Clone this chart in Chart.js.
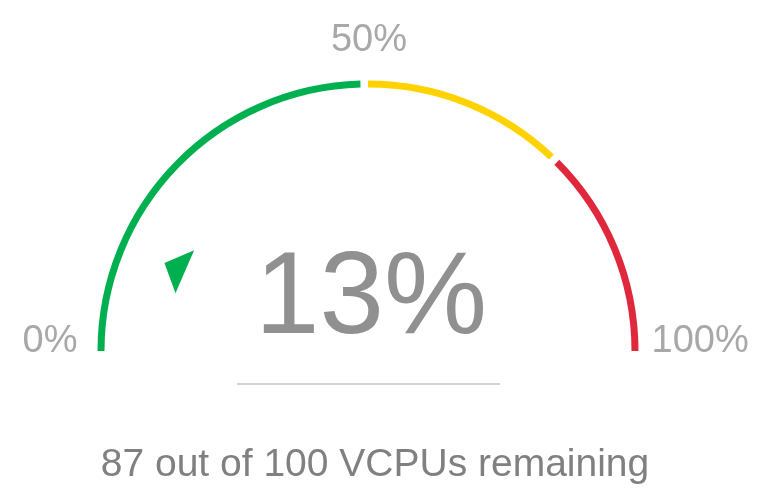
<!DOCTYPE html>
<html><head><meta charset="utf-8">
<script src="https://cdn.jsdelivr.net/npm/chart.js@4"></script>
<style>html,body{margin:0;padding:0;background:#fff;}#wrap{width:769px;height:491px;position:relative;}</style>
</head><body><div id="wrap"><canvas id="c"></canvas></div>
<script>
// ---- data ----
const bandNames = ['Low', 'Medium', 'High'];
const bandEnds = [50, 75, 100];
const bandColors = ['#00b050', '#ffd200', '#e0283c'];
const gaugeValue = 13;
const scaleLabels = ['0%', '50%', '100%'];
const valueLabel = '13%';
const caption = '87 out of 100 VCPUs remaining';

// ---- style ----
const GAP = 0.9;
const FONT = '"Liberation Sans", Arial, sans-serif';

const segData = [], segColors = [], segLabels = [];
let prev = 0;
bandEnds.forEach((end, i) => {
  const last = i === bandEnds.length - 1;
  segData.push(end - prev - (last ? 0 : GAP));
  segColors.push(bandColors[i]);
  segLabels.push(bandNames[i]);
  if (!last) { segData.push(GAP); segColors.push('rgba(0,0,0,0)'); segLabels.push(''); }
  prev = end;
});

const gaugeDecor = {
  id: 'gaugeDecor',
  afterDatasetsDraw(chart) {
    const ctx = chart.ctx;
    const arc = chart.getDatasetMeta(0).data[0];
    const cx = arc.x, cy = arc.y, R = arc.outerRadius;
    // pointer
    const a = -Math.PI + (gaugeValue / 100) * Math.PI;
    const d = 6.7 * Math.PI / 180;
    const rt = R * 0.82, rb = R * 0.743;
    let col = bandColors[0];
    for (let i = 0; i < bandEnds.length; i++) { if (gaugeValue <= bandEnds[i]) { col = bandColors[i]; break; } }
    ctx.save();
    ctx.fillStyle = col;
    ctx.beginPath();
    ctx.moveTo(cx + rt * Math.cos(a), cy + rt * Math.sin(a));
    ctx.lineTo(cx + rb * Math.cos(a + d), cy + rb * Math.sin(a + d));
    ctx.lineTo(cx + rb * Math.cos(a - d), cy + rb * Math.sin(a - d));
    ctx.closePath();
    ctx.fill();

    // scale labels
    ctx.font = '38px ' + FONT;
    ctx.fillStyle = '#a8a8a8';
    ctx.textBaseline = 'alphabetic';
    ctx.textAlign = 'right';
    ctx.fillText(scaleLabels[0], cx - R - 20, cy + 1);
    ctx.textAlign = 'left';
    ctx.fillText(scaleLabels[2], cx + R + 13, cy + 1);
    ctx.textAlign = 'center';
    ctx.fillText(scaleLabels[1], cx + 1, cy - R - 30);

    // value
    ctx.font = '116px ' + FONT;
    ctx.fillStyle = '#909090';
    ctx.fillText(valueLabel, cx + 3, cy - 18);

    // divider
    ctx.strokeStyle = '#d2d2d2';
    ctx.lineWidth = 2;
    ctx.beginPath();
    ctx.moveTo(cx - 131, cy + 33);
    ctx.lineTo(cx + 132, cy + 33);
    ctx.stroke();

    // caption
    ctx.font = '39px ' + FONT;
    ctx.fillStyle = '#808080';
    ctx.fillText(caption, cx + 7, cy + 125);
    ctx.restore();
  }
};

new Chart(document.getElementById('c'), {
  type: 'doughnut',
  data: { labels: segLabels, datasets: [{ data: segData, backgroundColor: segColors, borderWidth: 0, hoverOffset: 0 }] },
  options: {
    responsive: true,
    maintainAspectRatio: false,
    animation: false,
    rotation: -90,
    circumference: 180,
    radius: 270.5,
    cutout: (263.5 / 270.5 * 100).toFixed(3) + '%',
    layout: { padding: { left: 0, right: 33, top: 0, bottom: 59.5 } },
    plugins: { legend: { display: false }, tooltip: { enabled: false } },
    events: []
  },
  plugins: [gaugeDecor]
});
</script></body></html>
